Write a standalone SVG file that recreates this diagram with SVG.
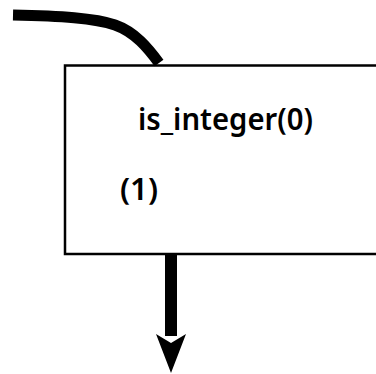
<svg xmlns="http://www.w3.org/2000/svg" width="376" height="374" viewBox="0 0 376 374">
<style>
.lbl{font-family:"Noto Sans","Open Sans",sans-serif;font-size:31px;font-weight:600;fill:#000}
.box{fill:#fff;stroke:#000;stroke-width:2.5}
.wire{fill:none;stroke:#000;stroke-width:11}
</style>
<rect width="376" height="374" fill="#fff"/>
<g id="node1">
<rect class="box" x="65" y="65.5" width="340" height="188.5"/>
<text class="lbl" x="138" y="130" textLength="175" lengthAdjust="spacingAndGlyphs">is_integer(0)</text>
<text class="lbl" x="120" y="200" textLength="38" lengthAdjust="spacingAndGlyphs">(1)</text>
</g>
<g id="connectors">
<path class="wire" d="M13,15 C60,16 95,18 115,25 C135,32 148,48 159,63"/>
<line x1="171" y1="255" x2="171" y2="336" stroke="#000" stroke-width="12"/>
<polygon points="156,334 171,343 186,334 171,373" fill="#000"/>
</g>
</svg>
